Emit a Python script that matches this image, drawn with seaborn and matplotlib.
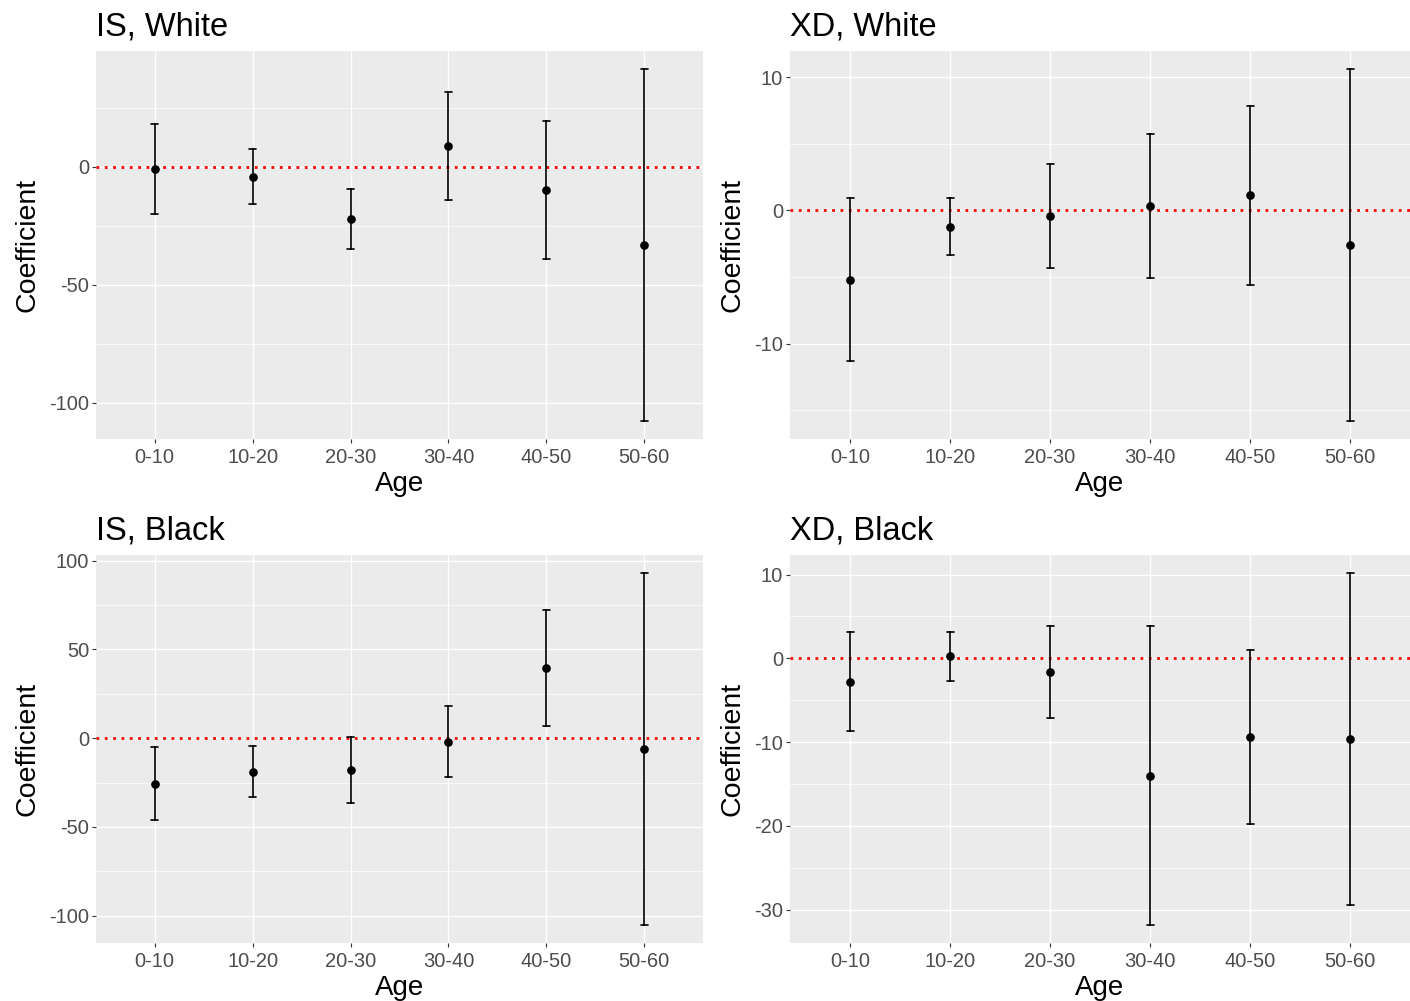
import numpy as np
import pandas as pd
import seaborn as sns
import matplotlib.pyplot as plt
from matplotlib.ticker import MultipleLocator, AutoMinorLocator

ages = ["0-10", "10-20", "20-30", "30-40", "40-50", "50-60"]

# IS, White
is_white_est = [-1.0, -4.2, -22.3, 8.7, -9.9, -33.1]
is_white_lo = [-20.0, -15.9, -34.8, -14.0, -38.9, -107.9]
is_white_hi = [18.3, 7.5, -9.4, 31.7, 19.5, 41.6]

# XD, White
xd_white_est = [-5.19, -1.22, -0.45, 0.32, 1.12, -2.6]
xd_white_lo = [-11.31, -3.32, -4.34, -5.09, -5.57, -15.83]
xd_white_hi = [0.9, 0.9, 3.52, 5.72, 7.84, 10.64]

# IS, Black
is_black_est = [-25.9, -18.9, -18.2, -2.1, 39.4, -6.2]
is_black_lo = [-46.3, -33.0, -36.4, -21.8, 6.8, -105.4]
is_black_hi = [-5.1, -4.5, 0.6, 18.0, 72.0, 93.2]

# XD, Black
xd_black_est = [-2.79, 0.24, -1.63, -14.0, -9.39, -9.59]
xd_black_lo = [-8.71, -2.67, -7.08, -31.87, -19.74, -29.41]
xd_black_hi = [3.14, 3.1, 3.86, 3.9, 1.03, 10.23]

panels = [
    ("IS, White", is_white_est, is_white_lo, is_white_hi, 50),
    ("XD, White", xd_white_est, xd_white_lo, xd_white_hi, 10),
    ("IS, Black", is_black_est, is_black_lo, is_black_hi, 50),
    ("XD, Black", xd_black_est, xd_black_lo, xd_black_hi, 10),
]

sns.set_theme(style="darkgrid", rc={
    "axes.facecolor": "#EBEBEB",
    "grid.color": "white",
    "axes.unicode_minus": False,
    "text.color": "black",
    "axes.labelcolor": "black",
})
plt.rcParams["font.family"] = ["Liberation Sans", "DejaVu Sans"]

fig = plt.figure(figsize=(14.1, 10.01), dpi=100)
W, H = 1410.0, 1001.0
boxes = [(96, 51, 703, 439), (790, 51, 1410, 439),
         (96, 555, 703, 943), (790, 555, 1410, 943)]

for (title, est, lo, hi, step), (x0, y0, x1, y1) in zip(panels, boxes):
    ax = fig.add_axes([x0 / W, 1 - y1 / H, (x1 - x0) / W, (y1 - y0) / H])
    # long table: median of (lo, est, hi) is est, full range is lo..hi
    df = pd.DataFrame({
        "Age": np.repeat(ages, 3),
        "Coefficient": np.column_stack([lo, est, hi]).ravel(),
    })
    ax.axhline(0, color="red", linestyle=(0, (1, 2)), linewidth=2, zorder=1)
    sns.pointplot(data=df, x="Age", y="Coefficient", estimator="median",
                  errorbar=("pi", 100), color="black", linestyle="none",
                  markers="o", markersize=4.2, capsize=0.07,
                  err_kws={"linewidth": 1.2}, ax=ax, zorder=3)
    ax.set_xlim(-0.6, len(ages) - 0.4)
    ax.margins(y=0.05)
    ax.yaxis.set_major_locator(MultipleLocator(step))
    ax.yaxis.set_minor_locator(AutoMinorLocator(2))
    ax.grid(which="major", color="white", linewidth=1.0)
    ax.grid(which="minor", axis="y", color="white", linewidth=0.5)
    ax.set_axisbelow(True)
    for s in ax.spines.values():
        s.set_visible(False)
    ax.tick_params(which="major", bottom=True, left=True, length=2.75,
                   width=0.8, color="#333333", labelcolor="#4D4D4D",
                   labelsize=14.5, pad=2.2)
    ax.tick_params(axis="x", which="major", pad=4)
    ax.tick_params(which="minor", bottom=False, left=False, length=0)
    ax.set_xlabel("Age", fontsize=20, labelpad=2.5, color="black")
    ax.set_ylabel("Coefficient", fontsize=20.5, labelpad=6, color="black")
    ax.set_title(title, loc="left", fontsize=23.5, pad=11, color="black")

plt.savefig("out.png", dpi=100)
